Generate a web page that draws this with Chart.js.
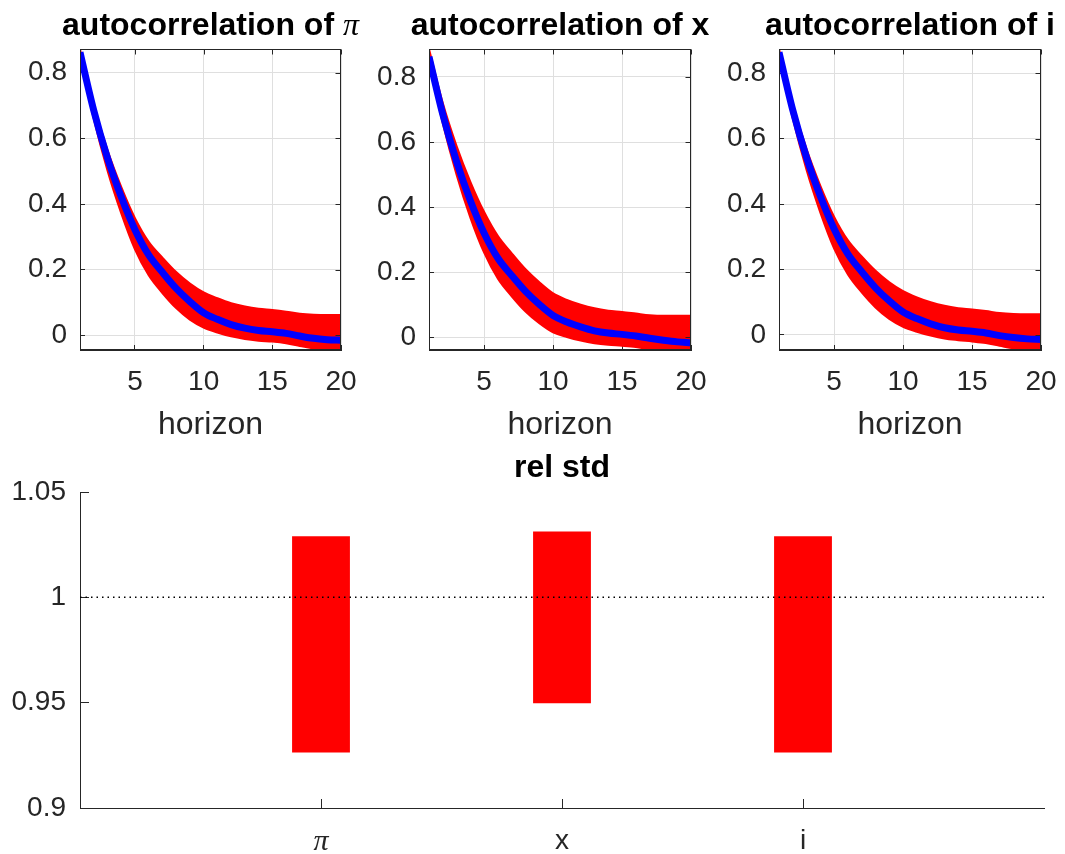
<!DOCTYPE html>
<html lang="en">
<head>
    <meta charset="UTF-8">
    <title>autocorrelation / rel std</title>
    <script src="https://cdn.jsdelivr.net/npm/chart.js"></script>
    <style>
        body {
            margin: 0;
            background: #fff;
            overflow: hidden;
        }
        canvas {
            position: absolute;
        }
    </style>
</head>
<body>
    <canvas id="acfPi" width="365" height="450" style="left:0px;top:0px"></canvas>
    <canvas id="acfX" width="366" height="450" style="left:349px;top:0px"></canvas>
    <canvas id="acfI" width="366" height="450" style="left:699px;top:0px"></canvas>
    <canvas id="relStd" width="1065" height="414" style="left:0px;top:440px"></canvas>

    <script>
        // horizons on the x axis
        const horizon = [1, 2, 3, 4, 5, 6, 7, 8, 9, 10, 11, 12, 13, 14, 15, 16, 17, 18, 19, 20];

        // autocorrelation of pi: median and band
        const piMedian = [0.862, 0.685, 0.540, 0.422, 0.322, 0.245, 0.192, 0.143, 0.103, 0.069, 0.049, 0.033, 0.022, 0.015, 0.011, 0.006, -0.002, -0.009, -0.013, -0.015];
        const piUpper  = [0.871, 0.702, 0.564, 0.452, 0.357, 0.285, 0.237, 0.193, 0.158, 0.131, 0.113, 0.098, 0.088, 0.081, 0.077, 0.072, 0.066, 0.063, 0.062, 0.062];
        const piLower  = [0.852, 0.660, 0.502, 0.372, 0.262, 0.183, 0.129, 0.083, 0.048, 0.024, 0.009, -0.003, -0.011, -0.016, -0.019, -0.024, -0.032, -0.040, -0.045, -0.048];

        // autocorrelation of x
        const xMedian = [0.862, 0.685, 0.540, 0.420, 0.320, 0.243, 0.190, 0.141, 0.101, 0.067, 0.047, 0.032, 0.020, 0.013, 0.009, 0.004, -0.003, -0.009, -0.014, -0.017];
        const xUpper  = [0.886, 0.720, 0.588, 0.478, 0.385, 0.311, 0.258, 0.209, 0.169, 0.135, 0.115, 0.100, 0.089, 0.082, 0.078, 0.073, 0.068, 0.066, 0.066, 0.066];
        const xLower  = [0.850, 0.658, 0.500, 0.368, 0.260, 0.180, 0.126, 0.079, 0.043, 0.015, 0.001, -0.010, -0.018, -0.023, -0.026, -0.030, -0.037, -0.042, -0.044, -0.043];

        // autocorrelation of i
        const iMedian = [0.864, 0.687, 0.542, 0.424, 0.324, 0.247, 0.193, 0.144, 0.104, 0.070, 0.050, 0.034, 0.022, 0.015, 0.011, 0.006, -0.002, -0.008, -0.012, -0.014];
        const iUpper  = [0.874, 0.705, 0.568, 0.456, 0.361, 0.289, 0.240, 0.196, 0.161, 0.134, 0.115, 0.100, 0.089, 0.082, 0.078, 0.073, 0.067, 0.064, 0.063, 0.063];
        const iLower  = [0.855, 0.662, 0.504, 0.374, 0.264, 0.185, 0.130, 0.084, 0.049, 0.025, 0.010, -0.002, -0.011, -0.016, -0.020, -0.025, -0.033, -0.041, -0.046, -0.049];

        // y limits of the three small panels (axis tight)
        const piLimits = [-0.0445, 0.872];
        const xLimits  = [-0.039, 0.886];
        const iLimits  = [-0.046, 0.874];

        // rel std ranges
        const relStdLabels = ['π', 'x', 'i'];
        const relStdPos    = [1, 2, 3];
        const relStdLow    = [0.9264, 0.9497, 0.9264];
        const relStdHigh   = [1.0290, 1.0313, 1.0290];
        const relStdTicks  = [0.9, 0.95, 1, 1.05];

        const SANS = '"Liberation Sans", Arial, Helvetica, sans-serif';
        const SERIF = '"Liberation Serif", "DejaVu Serif", serif';
        const AXIS = '#262626';

        // title drawn above the plot area, can mix fonts (for the italic pi)
        const panelTitle = {
            id: 'panelTitle',
            afterDraw(chart, args, opts) {
                const ctx = chart.ctx;
                const area = chart.chartArea;
                const parts = opts.parts || [];
                ctx.save();
                ctx.fillStyle = '#000';
                ctx.textBaseline = 'alphabetic';
                ctx.textAlign = 'left';
                const widths = parts.map(p => { ctx.font = p.font; return ctx.measureText(p.text).width; });
                const total = widths.reduce((a, b) => a + b, 0);
                let x = (area.left + area.right) / 2 - total / 2;
                const y = area.top - opts.gap;
                parts.forEach((p, k) => {
                    ctx.font = p.font;
                    ctx.fillText(p.text, x, y);
                    x += widths[k];
                });
                ctx.restore();
            }
        };

        // full box with inward ticks on top and right (matlab "box on")
        const axesBox = {
            id: 'axesBox',
            afterDraw(chart) {
                const {ctx, chartArea: a, scales} = chart;
                const l = Math.round(a.left) + 0.5, r = Math.round(a.right) - 0.5;
                const t = Math.round(a.top) + 0.5, b = Math.round(a.bottom) - 0.5;
                ctx.save();
                ctx.strokeStyle = AXIS;
                ctx.lineWidth = 1;
                ctx.strokeRect(l, t, r - l, b - t);
                ctx.beginPath();
                scales.x.ticks.forEach(tk => {
                    const px = Math.round(scales.x.getPixelForValue(tk.value)) + 0.5;
                    ctx.moveTo(px, t);
                    ctx.lineTo(px, t + 5);
                });
                scales.y.ticks.forEach(tk => {
                    const py = Math.round(scales.y.getPixelForValue(tk.value)) + 0.5;
                    ctx.moveTo(r, py);
                    ctx.lineTo(r - 5, py);
                });
                ctx.stroke();
                ctx.restore();
            }
        };

        function toPoints(values) {
            return values.map((v, k) => ({x: horizon[k], y: v}));
        }

        function makeAcfChart(id, titleParts, median, upper, lower, limits) {
            const ctx = document.getElementById(id).getContext('2d');
            return new Chart(ctx, {
                type: 'line',
                data: {
                    datasets: [
                        {
                            data: toPoints(upper),
                            borderColor: '#ff0000',
                            backgroundColor: '#ff0000',
                            borderWidth: 2,
                            pointRadius: 0,
                            fill: '+1',
                            cubicInterpolationMode: 'monotone',
                            order: 2
                        },
                        {
                            data: toPoints(lower),
                            borderColor: '#ff0000',
                            borderWidth: 2,
                            pointRadius: 0,
                            fill: false,
                            cubicInterpolationMode: 'monotone',
                            order: 2
                        },
                        {
                            data: toPoints(median),
                            borderColor: '#0000ff',
                            borderWidth: 7,
                            pointRadius: 0,
                            fill: false,
                            cubicInterpolationMode: 'monotone',
                            order: 1
                        }
                    ]
                },
                options: {
                    responsive: false,
                    animation: false,
                    layout: {padding: {top: 49, right: 24, left: 0, bottom: 0}},
                    plugins: {
                        legend: {display: false},
                        tooltip: {enabled: false},
                        panelTitle: {parts: titleParts, gap: 14}
                    },
                    scales: {
                        x: {
                            type: 'linear',
                            min: 1,
                            max: 20,
                            afterFit: s => { s.height = 100; s.paddingLeft = 0; s.paddingRight = 0; },
                            ticks: {
                                stepSize: 5,
                                includeBounds: false,
                                color: AXIS,
                                padding: 20,
                                maxRotation: 0,
                                font: {family: SANS, size: 28}
                            },
                            grid: {color: '#dfdfdf', tickColor: AXIS, tickLength: -5},
                            border: {display: true, color: AXIS},
                            title: {
                                display: true,
                                text: 'horizon',
                                color: AXIS,
                                font: {family: SANS, size: 32},
                                padding: {top: 0, bottom: 6}
                            }
                        },
                        y: {
                            min: limits[0],
                            max: limits[1],
                            afterFit: s => { s.width = 80; },
                            ticks: {
                                stepSize: 0.2,
                                includeBounds: false,
                                color: AXIS,
                                padding: 18,
                                font: {family: SANS, size: 28},
                                callback: v => String(+v.toFixed(2))
                            },
                            grid: {color: '#dfdfdf', tickColor: AXIS, tickLength: -5},
                            border: {display: true, color: AXIS}
                        }
                    }
                },
                plugins: [panelTitle, axesBox]
            });
        }

        const boldTitle = 'bold 32px ' + SANS;
        makeAcfChart('acfPi', [
            {text: 'autocorrelation of ', font: boldTitle},
            {text: 'π', font: 'italic 32px ' + SERIF}
        ], piMedian, piUpper, piLower, piLimits);
        makeAcfChart('acfX', [{text: 'autocorrelation of x', font: boldTitle}], xMedian, xUpper, xLower, xLimits);
        makeAcfChart('acfI', [{text: 'autocorrelation of i', font: boldTitle}], iMedian, iUpper, iLower, iLimits);

        // rel std: floating bars between low and high, dotted reference at 1
        const relCtx = document.getElementById('relStd').getContext('2d');
        new Chart(relCtx, {
            type: 'bar',
            data: {
                datasets: [
                    {
                        type: 'bar',
                        data: relStdPos.map((p, k) => ({x: p, y: [relStdLow[k], relStdHigh[k]]})),
                        backgroundColor: '#ff0000',
                        borderWidth: 0,
                        barPercentage: 0.24,
                        categoryPercentage: 1,
                        order: 2
                    },
                    {
                        type: 'line',
                        data: [{x: 0, y: 1}, {x: 4, y: 1}],
                        borderColor: '#000',
                        borderWidth: 1.5,
                        borderDash: [1.5, 4],
                        pointRadius: 0,
                        fill: false,
                        order: 1
                    }
                ]
            },
            options: {
                responsive: false,
                animation: false,
                layout: {padding: {top: 52, right: 21, left: 0, bottom: 0}},
                plugins: {
                    legend: {display: false},
                    tooltip: {enabled: false},
                    panelTitle: {parts: [{text: 'rel std', font: boldTitle}], gap: 15}
                },
                scales: {
                    x: {
                        type: 'linear',
                        min: 0,
                        max: 4,
                        offset: false,
                        afterFit: s => { s.height = 46; s.paddingLeft = 0; s.paddingRight = 0; },
                        afterBuildTicks: s => { s.ticks = relStdPos.map(v => ({value: v})); },
                        ticks: {
                            color: AXIS,
                            padding: 25,
                            maxRotation: 0,
                            autoSkip: false,
                            font: ctx => (ctx.tick && ctx.tick.value === 1)
                                ? {family: SERIF, size: 30, style: 'italic'}
                                : {family: SANS, size: 28},
                            callback: v => relStdLabels[relStdPos.indexOf(v)] || ''
                        },
                        grid: {offset: false, drawOnChartArea: false, tickColor: AXIS, tickLength: -9},
                        border: {display: true, color: AXIS}
                    },
                    y: {
                        min: relStdTicks[0],
                        max: relStdTicks[relStdTicks.length - 1],
                        afterFit: s => { s.width = 80; },
                        afterBuildTicks: s => { s.ticks = relStdTicks.map(v => ({value: v})); },
                        ticks: {
                            color: AXIS,
                            padding: 23,
                            font: {family: SANS, size: 28},
                            callback: v => String(+v.toFixed(3))
                        },
                        grid: {drawOnChartArea: false, tickColor: AXIS, tickLength: -9},
                        border: {display: true, color: AXIS}
                    }
                }
            },
            plugins: [panelTitle]
        });
    </script>
</body>
</html>
